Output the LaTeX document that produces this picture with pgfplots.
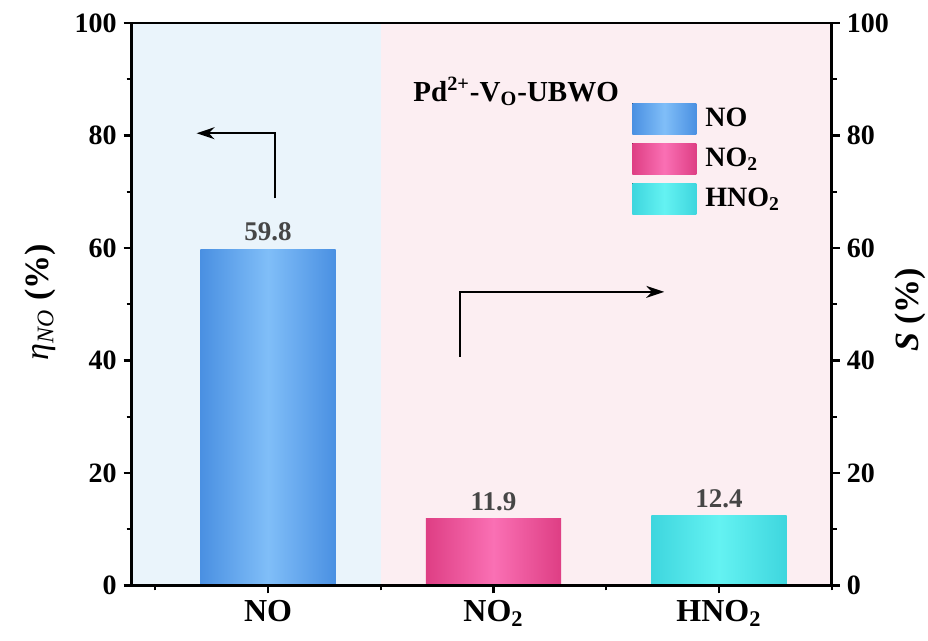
\documentclass[border=0pt]{standalone}
\usepackage{fontspec}
\setmainfont{Liberation Serif}
\usepackage{pgfplots}
\pgfplotsset{compat=1.18}
\usetikzlibrary{arrows.meta}
\definecolor{bgblue}{RGB}{234,244,251}
\definecolor{bgpink}{RGB}{252,238,242}
\definecolor{blueE}{RGB}{74,144,226}
\definecolor{blueM}{RGB}{128,190,248}
\definecolor{pinkE}{RGB}{222,62,132}
\definecolor{pinkM}{RGB}{250,112,180}
\definecolor{cyanE}{RGB}{62,214,222}
\definecolor{cyanM}{RGB}{100,242,242}
\definecolor{valgray}{RGB}{70,70,70}
\begin{document}
\begin{tikzpicture}
\pgfplotsset{common/.style={
  scale only axis, width=350pt, height=281.25pt,
  xmin=-0.605, xmax=2.5, ymin=0, ymax=100,
  tick align=outside, major tick length=4pt, minor tick length=2.5pt,
  every tick/.style={line width=1.1pt, black},
  axis line style={line width=1.3pt},
  ytick={0,20,...,100}, minor y tick num=1,
  /pgf/number format/assume math mode=true,
  yticklabel style={font=\fontsize{14}{16}\selectfont\bfseries},
}}
\begin{axis}[common, name=ax, axis on top,
  ytick pos=left, xtick pos=left,
  xtick={0,1,2}, xticklabels={NO, NO\textsubscript{2}, HNO\textsubscript{2}},
  minor xtick={-0.5,0.5,1.5,2.5},
  xticklabel style={font=\fontsize{16}{19}\selectfont\bfseries},
  ylabel={{\mdseries\itshape η\textsubscript{NO}} (\%)},
  ylabel style={font=\fontsize{17}{20}\selectfont\bfseries, at={(axis description cs:-0.131,0.504)}, anchor=center},
  legend style={draw=none, fill=none, at={(axis description cs:0.7147,0.8578)}, anchor=north west,
     inner sep=0pt, row sep=4.5pt, column sep=4.5pt, font=\fontsize{14}{16}\selectfont\bfseries, nodes={inner sep=0pt, anchor=west}},
  legend cell align=left,
  legend image code/.code={\fill[#1] (0pt,-7.75pt) rectangle (32pt,7.75pt);},
  nodes near coords={\pgfmathprintnumber[fixed,fixed zerofill,precision=1]{\pgfplotspointmeta}},
  nodes near coords style={font=\fontsize{13.5}{16}\selectfont\bfseries, text=valgray, anchor=south, inner sep=0pt, yshift=3.8pt},
]
\fill[bgblue] (axis cs:-0.605,0) rectangle (axis cs:0.5,100);
\fill[bgpink] (axis cs:0.5,0) rectangle (axis cs:2.5,100);
\addplot[ybar, bar width=0.6, bar shift=0pt, draw=none, left color=blueE, right color=blueE, middle color=blueM] coordinates {(0,59.8)};
\addlegendentry{NO}
\addplot[ybar, bar width=0.6, bar shift=0pt, draw=none, left color=pinkE, right color=pinkE, middle color=pinkM] coordinates {(1,11.9)};
\addlegendentry{NO\textsubscript{2}}
\addplot[ybar, bar width=0.6, bar shift=0pt, draw=none, left color=cyanE, right color=cyanE, middle color=cyanM] coordinates {(2,12.4)};
\addlegendentry{HNO\textsubscript{2}}
\node[anchor=base west, inner sep=0pt, font=\fontsize{14.5}{17}\selectfont\bfseries] at (axis description cs:0.4019,0.861) {Pd\textsuperscript{2+}-V\textsubscript{O}-UBWO};
\draw[line width=1pt, -{Stealth[length=9pt,width=6pt]}] (axis cs:0.03,68.8) -- (axis cs:0.03,80.4) -- (axis cs:-0.317,80.4);
\draw[line width=1pt, -{Stealth[length=9pt,width=6pt]}] (axis cs:0.852,40.7) -- (axis cs:0.852,52.2) -- (axis cs:1.757,52.2);
\end{axis}
\begin{axis}[common, axis x line=none, axis y line*=right,
  ylabel={\textit{S} (\%)},
  ylabel style={font=\fontsize{17}{20}\selectfont\bfseries, at={(axis description cs:1.113,0.49)}, anchor=center},
]
\addplot[draw=none, forget plot] coordinates {(0,0)};
\end{axis}
\pgfresetboundingbox
\path ([xshift=-65.85pt,yshift=-27.75pt]ax.south west) rectangle ([xshift=48.15pt,yshift=11.5pt]ax.north east);
\end{tikzpicture}
\end{document}
